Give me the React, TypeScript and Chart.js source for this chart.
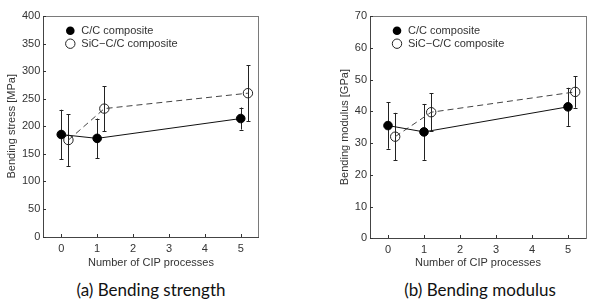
import React, { useEffect, useRef } from 'react';
import { Chart, registerables } from 'chart.js';
Chart.register(...registerables);

// ---------- data ----------
const xTickValues = [0, 1, 2, 3, 4, 5];
const ccX = [0, 1, 5];
const sicX = [0.2, 1.2, 5.2];
const seriesLabels = ['C/C composite', 'SiC\u2212C/C composite'];

const strengthCC = [185, 178, 214];
const strengthCCErr = [45, 36, 20];
const strengthSiC = [175, 232, 260];
const strengthSiCErr = [47, 41, 51];

const modulusCC = [35.5, 33.5, 41.4];
const modulusCCErr = [7.3, 8.8, 6];
const modulusSiC = [32, 39.7, 46.1];
const modulusSiCErr = [7.5, 6, 5];

const strengthTicks = [0, 50, 100, 150, 200, 250, 300, 350, 400];
const modulusTicks = [0, 10, 20, 30, 40, 50, 60, 70];

const FONT = "'Liberation Sans', Arial, sans-serif";
const TEXT = '#333';

type PanelCfg = {
  yTitle: string;
  yTicks: number[];
  cc: number[];
  ccErr: number[];
  sic: number[];
  sicErr: number[];
  width: number;
  height: number;
  padLeft: number;
  padRight: number;
  padTop: number;
  padBottom: number;
  yWidth: number;
  xHeight: number;
  xTickPad: number;
};

const frameAndTicks = {
  id: 'frameAndTicks',
  afterDraw(chart: any) {
    const { ctx, chartArea: a, scales } = chart;
    ctx.save();
    ctx.lineWidth = 1;
    ctx.strokeStyle = '#7a7a7a';
    ctx.strokeRect(Math.round(a.left) + 0.5, Math.round(a.top) + 0.5, Math.round(a.right - a.left), Math.round(a.bottom - a.top));
    ctx.strokeStyle = '#444';
    ctx.beginPath();
    ctx.moveTo(Math.round(a.left) + 0.5, Math.round(a.top));
    ctx.lineTo(Math.round(a.left) + 0.5, Math.round(a.bottom) + 0.5);
    ctx.lineTo(Math.round(a.right), Math.round(a.bottom) + 0.5);
    ctx.stroke();
    ctx.strokeStyle = '#333';
    ctx.beginPath();
    for (const t of scales.x.ticks) {
      const px = Math.round(scales.x.getPixelForValue(t.value)) + 0.5;
      ctx.moveTo(px, Math.round(a.bottom));
      ctx.lineTo(px, Math.round(a.bottom) - 3);
    }
    for (const t of scales.y.ticks) {
      const py = Math.round(scales.y.getPixelForValue(t.value)) + 0.5;
      ctx.moveTo(Math.round(a.left), py);
      ctx.lineTo(Math.round(a.left) + 3, py);
    }
    ctx.stroke();
    ctx.restore();
  },
};

const errorBars = {
  id: 'errorBars',
  beforeDatasetsDraw(chart: any) {
    const { ctx, scales } = chart;
    ctx.save();
    ctx.strokeStyle = '#222';
    ctx.lineWidth = 1;
    chart.data.datasets.forEach((ds: any) => {
      const errs: number[] = ds.errors || [];
      ds.data.forEach((p: any, i: number) => {
        const e = errs[i];
        if (e == null) return;
        const x = Math.round(scales.x.getPixelForValue(p.x)) + 0.5;
        const y1 = scales.y.getPixelForValue(p.y + e);
        const y2 = scales.y.getPixelForValue(p.y - e);
        ctx.beginPath();
        ctx.moveTo(x, y1);
        ctx.lineTo(x, y2);
        ctx.moveTo(x - 2, Math.round(y1) + 0.5);
        ctx.lineTo(x + 2, Math.round(y1) + 0.5);
        ctx.moveTo(x - 2, Math.round(y2) + 0.5);
        ctx.lineTo(x + 2, Math.round(y2) + 0.5);
        ctx.stroke();
      });
    });
    ctx.restore();
  },
};

const innerLegend = {
  id: 'innerLegend',
  afterDraw(chart: any) {
    const { ctx, chartArea: a } = chart;
    ctx.save();
    const mx = a.left + 27;
    const tx = a.left + 38;
    const y0 = a.top + 14.7;
    const dy = 13;
    chart.data.datasets.forEach((ds: any, i: number) => {
      const y = y0 + i * dy;
      ctx.beginPath();
      ctx.arc(mx, y, i === 0 ? 4.3 : 4.7, 0, Math.PI * 2);
      if (i === 0) {
        ctx.fillStyle = '#000';
        ctx.fill();
      } else {
        ctx.strokeStyle = '#222';
        ctx.lineWidth = 1;
        ctx.stroke();
      }
      ctx.fillStyle = TEXT;
      ctx.font = `11px ${FONT}`;
      ctx.textBaseline = 'middle';
      ctx.textAlign = 'left';
      ctx.fillText(ds.label, tx, y + 0.5);
    });
    ctx.restore();
  },
};

function Panel({ cfg }: { cfg: PanelCfg }) {
  const ref = useRef<HTMLCanvasElement>(null);
  useEffect(() => {
    if (!ref.current) return;
    const yMin = cfg.yTicks[0];
    const yMax = cfg.yTicks[cfg.yTicks.length - 1];
    const chart = new Chart(ref.current, {
      type: 'scatter',
      data: {
        datasets: [
          {
            label: seriesLabels[0],
            data: ccX.map((x, i) => ({ x, y: cfg.cc[i] })),
            errors: cfg.ccErr,
            showLine: true,
            borderColor: '#111',
            borderWidth: 1,
            backgroundColor: '#000',
            pointBackgroundColor: '#000',
            pointBorderColor: '#000',
            pointRadius: 4.3,
            pointBorderWidth: 1,
          } as any,
          {
            label: seriesLabels[1],
            data: sicX.map((x, i) => ({ x, y: cfg.sic[i] })),
            errors: cfg.sicErr,
            showLine: true,
            borderColor: '#444',
            borderWidth: 1,
            borderDash: [6, 4],
            backgroundColor: 'rgba(0,0,0,0)',
            pointBackgroundColor: 'rgba(0,0,0,0)',
            pointBorderColor: '#222',
            pointRadius: 4.7,
            pointBorderWidth: 1,
          } as any,
        ],
      },
      options: {
        responsive: false,
        animation: false,
        devicePixelRatio: 1,
        layout: {
          padding: { left: cfg.padLeft, right: cfg.padRight, top: cfg.padTop, bottom: cfg.padBottom },
        },
        plugins: { legend: { display: false }, tooltip: { enabled: false } },
        scales: {
          x: {
            type: 'linear',
            min: -0.5,
            max: 5.5,
            afterBuildTicks: (s: any) => {
              s.ticks = xTickValues.map((v) => ({ value: v }));
            },
            afterFit: (s: any) => {
              s.height = cfg.xHeight;
            },
            grid: { display: false, drawTicks: false },
            border: { display: false },
            ticks: { padding: cfg.xTickPad, color: TEXT, font: { family: FONT, size: 11 }, maxRotation: 0 },
            title: {
              display: true,
              text: 'Number of CIP processes',
              color: TEXT,
              font: { family: FONT, size: 11 },
              padding: 0,
            },
          },
          y: {
            type: 'linear',
            min: yMin,
            max: yMax,
            afterBuildTicks: (s: any) => {
              s.ticks = cfg.yTicks.map((v) => ({ value: v }));
            },
            afterFit: (s: any) => {
              s.width = cfg.yWidth;
            },
            grid: { display: false, drawTicks: false },
            border: { display: false },
            ticks: { padding: 3, color: TEXT, font: { family: FONT, size: 11 } },
            title: {
              display: true,
              text: cfg.yTitle,
              color: TEXT,
              font: { family: FONT, size: 11 },
              padding: 0,
            },
          },
        },
      } as any,
      plugins: [errorBars, frameAndTicks, innerLegend],
    });
    return () => chart.destroy();
  }, [cfg]);
  return <canvas ref={ref} width={cfg.width} height={cfg.height} style={{ display: 'block', width: cfg.width, height: cfg.height }} />;
}

const panelA: PanelCfg = {
  yTitle: 'Bending stress [MPa]',
  yTicks: strengthTicks,
  cc: strengthCC,
  ccErr: strengthCCErr,
  sic: strengthSiC,
  sicErr: strengthSiCErr,
  width: 300,
  height: 275,
  padLeft: 5,
  padRight: 41.3,
  padTop: 16,
  padBottom: 5,
  yWidth: 38.3,
  xHeight: 33.5,
  xTickPad: 6,
};

const panelB: PanelCfg = {
  yTitle: 'Bending modulus [GPa]',
  yTicks: modulusTicks,
  cc: modulusCC,
  ccErr: modulusCCErr,
  sic: modulusSiC,
  sicErr: modulusSiCErr,
  width: 295,
  height: 275,
  padLeft: 38.4,
  padRight: 9,
  padTop: 16,
  padBottom: 5,
  yWidth: 31.6,
  xHeight: 31.7,
  xTickPad: 5,
};

const captionStyle: React.CSSProperties = {
  position: 'absolute',
  top: 280,
  width: 240,
  textAlign: 'center',
  fontFamily: "Lato, 'Open Sans', sans-serif",
  fontSize: 17,
  lineHeight: '20px',
  color: '#111',
  whiteSpace: 'nowrap',
};

export default function App() {
  return (
    <div style={{ position: 'absolute', left: 0, top: 0, width: 595, height: 305, background: '#fff', overflow: 'hidden' }}>
      <div style={{ position: 'absolute', left: 0, top: 0 }}>
        <Panel cfg={panelA} />
      </div>
      <div style={{ position: 'absolute', left: 300, top: 0 }}>
        <Panel cfg={panelB} />
      </div>
      <div style={{ ...captionStyle, left: 151 - 120 }}>(a) Bending strength</div>
      <div style={{ ...captionStyle, left: 480 - 120 }}>(b) Bending modulus</div>
    </div>
  );
}
